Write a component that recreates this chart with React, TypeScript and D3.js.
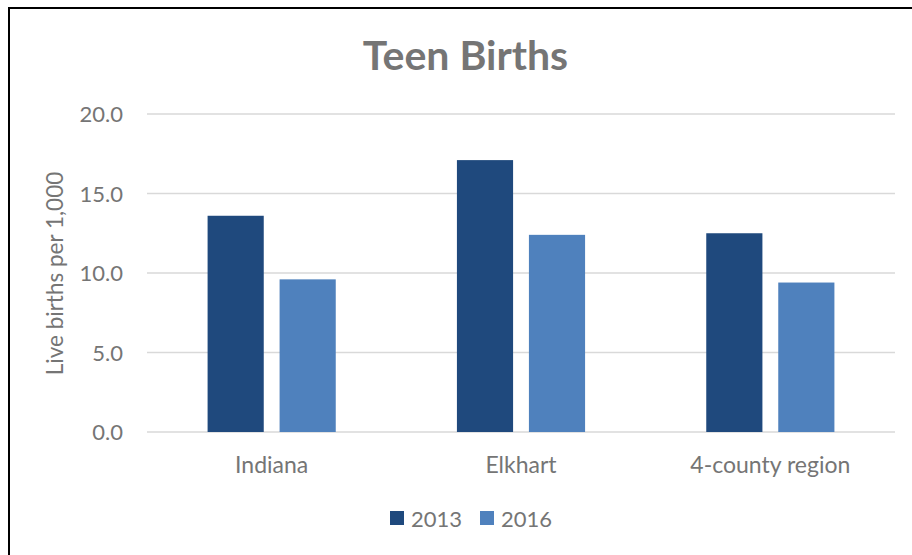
import React from "react";
import * as d3 from "d3";

const categories = ["Indiana", "Elkhart", "4-county region"];
const series = ["2013", "2016"];
const values2013 = [13.6, 17.1, 12.5];
const values2016 = [9.6, 12.4, 9.4];
const yTicks = [0, 5, 10, 15, 20];
const colors = ["#1F497D", "#4F81BD"];

export default function App() {
  const W = 912, H = 555;
  const left = 147, right = 895, top = 114, bottom = 432;
  const x0 = d3.scaleBand().domain(categories).range([left, right]).paddingInner(0.486).paddingOuter(0.243);
  const x1 = d3.scaleBand().domain(series).range([0, x0.bandwidth()]).paddingInner(0.22);
  const y = d3.scaleLinear().domain([0, 20]).range([bottom, top]);
  const data = [values2013, values2016];
  const textColor = "#757575";
  const font = "Lato, 'Open Sans', sans-serif";
  return (
    <svg width={W} height={H} style={{ position: "absolute", left: 0, top: 0 }} fontFamily={font}>
      <rect x={0} y={0} width={W} height={H} fill="#fff" />
      <rect x={9} y={8} width={W + 10} height={H + 10} fill="none" stroke="#000" strokeWidth={2} />
      <text x={465.5} y={70} textAnchor="middle" fontSize={41} fontWeight="bold" fill={textColor}>Teen Births</text>
      {yTicks.map((t) => (
        <g key={t}>
          <line x1={left} x2={right} y1={y(t)} y2={y(t)} stroke="#D9D9D9" strokeWidth={1.5} />
          <text x={123} y={y(t) + 8} textAnchor="end" fontSize={22} fill={textColor}>{t.toFixed(1)}</text>
        </g>
      ))}
      {categories.map((c, i) => (
        <g key={c} transform={`translate(${x0(c)},0)`}>
          {series.map((s, j) => (
            <rect key={s} x={x1(s)} y={y(data[j][i])} width={x1.bandwidth()} height={y(0) - y(data[j][i])} fill={colors[j]} />
          ))}
          <text x={x0.bandwidth() / 2} y={473} textAnchor="middle" fontSize={23} fill={textColor}>{c}</text>
        </g>
      ))}
      <text transform={`translate(63,273.5) rotate(-90)`} textAnchor="middle" fontSize={22.5} fill={textColor}>Live births per 1,000</text>
      {series.map((s, j) => (
        <g key={s} transform={`translate(${390 + j * 90},511)`}>
          <rect x={0} y={0} width={14} height={14} fill={colors[j]} />
          <text x={21} y={16} fontSize={22} fill={textColor}>{s}</text>
        </g>
      ))}
    </svg>
  );
}
